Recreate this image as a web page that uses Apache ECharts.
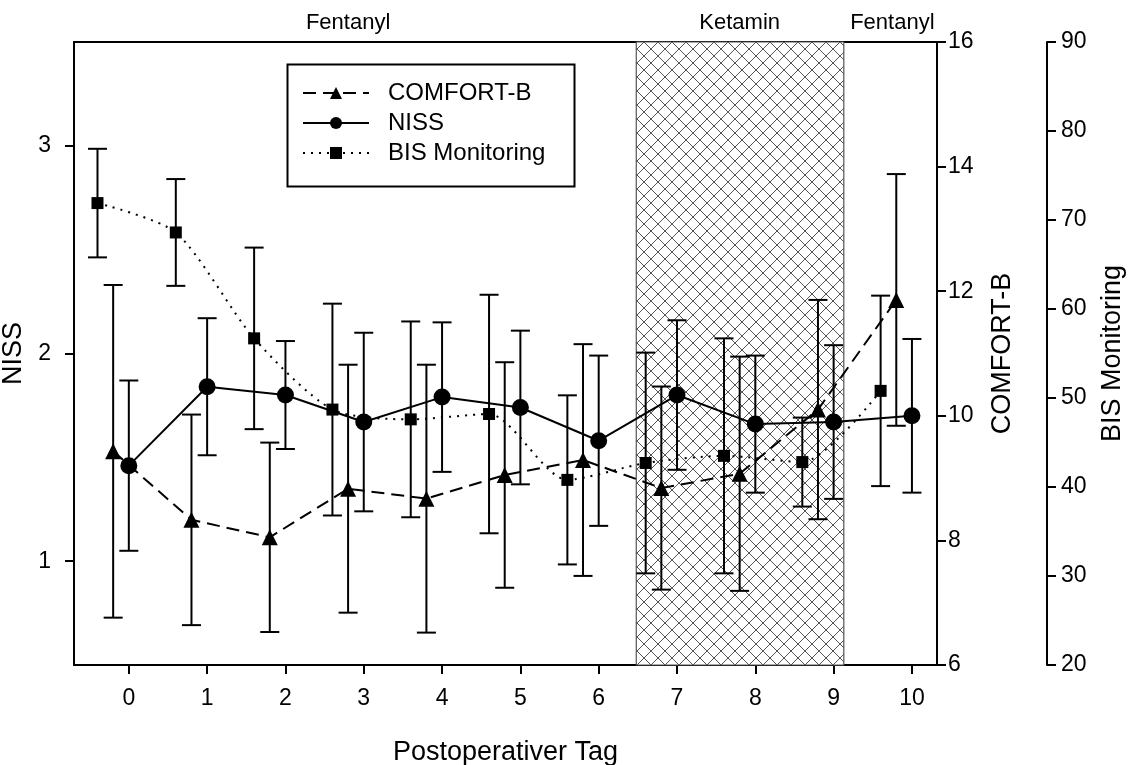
<!DOCTYPE html>
<html>
<head>
<meta charset="utf-8">
<script src="https://cdn.jsdelivr.net/npm/echarts@6/dist/echarts.min.js"></script>
<style>
html,body{margin:0;padding:0;background:#fff;}
#chart{width:1132px;height:765px;}
</style>
</head>
<body>
<div id="chart"></div>
<script>
// ---- data ----
const days = [0, 1, 2, 3, 4, 5, 6, 7, 8, 9, 10];
const xTickLabels = ['0','1','2','3','4','5','6','7','8','9','10'];
const nissTicks = [1, 2, 3];
const nissMean = [1.46, 1.84, 1.80, 1.67, 1.79, 1.74, 1.58, 1.80, 1.66, 1.67, 1.70];
const nissErr  = [0.41, 0.33, 0.26, 0.43, 0.36, 0.37, 0.41, 0.36, 0.33, 0.37, 0.37];
const comfortMean = [9.43, 8.33, 8.05, 8.83, 8.67, 9.05, 9.29, 8.84, 9.07, 10.10, 11.86];
const comfortErr  = [2.67, 1.69, 1.52, 1.99, 2.15, 1.81, 1.86, 1.63, 1.88, 1.76, 2.02];
const bisMean = [71.9, 68.6, 56.7, 48.7, 47.6, 48.2, 40.8, 42.7, 43.5, 42.8, 50.8];
const bisErr  = [6.1, 6.0, 10.2, 11.9, 11.0, 13.4, 9.5, 12.4, 13.2, 5.0, 10.7];
const comfortShift = -0.2;   // plotted slightly left of the day
const bisShift = -0.4;
const ketaminSpan = [6.48, 9.13];
const phaseLabels = ['Fentanyl', 'Ketamin', 'Fentanyl'];
const phaseCenters = [2.8, 7.8, 9.75];

// ---- helpers ----
const FONT = "'Liberation Sans', Arial, sans-serif";

function hatchCanvas() {
  const s = 14;
  const c = document.createElement('canvas');
  c.width = s; c.height = s;
  const g = c.getContext('2d');
  g.fillStyle = '#fff'; g.fillRect(0, 0, s, s);
  g.strokeStyle = '#555'; g.lineWidth = 1;
  g.beginPath();
  g.moveTo(0, 0); g.lineTo(s, s);
  g.moveTo(s, 0); g.lineTo(0, s);
  g.stroke();
  return c;
}

function pts(mean, shift) { return days.map((d, i) => [d + shift, mean[i]]); }
function errData(mean, err, shift) { return days.map((d, i) => [d + shift, mean[i] - err[i], mean[i] + err[i]]); }

function errSeries(name, mean, err, shift, yIdx) {
  return {
    type: 'custom', name: name + ' err', yAxisIndex: yIdx, z: 3, silent: true,
    data: errData(mean, err, shift),
    encode: { x: 0, y: [1, 2] },
    renderItem: function (params, api) {
      const lo = api.coord([api.value(0), api.value(1)]);
      const hi = api.coord([api.value(0), api.value(2)]);
      const w = 9.5;
      const st = { stroke: '#000', lineWidth: 2 };
      return { type: 'group', children: [
        { type: 'line', shape: { x1: lo[0], y1: lo[1], x2: hi[0], y2: hi[1] }, style: st },
        { type: 'line', shape: { x1: lo[0] - w, y1: lo[1], x2: lo[0] + w, y2: lo[1] }, style: st },
        { type: 'line', shape: { x1: hi[0] - w, y1: hi[1], x2: hi[0] + w, y2: hi[1] }, style: st }
      ]};
    }
  };
}

const chart = echarts.init(document.getElementById('chart'), null, { renderer: 'canvas' });

const axisLineStyle = { show: true, onZero: false, lineStyle: { color: '#000', width: 2 } };
const tickStyle = { show: true, inside: false, length: 9, lineStyle: { color: '#000', width: 2 } };
const TICK_FS = 23;
const NAME_FS = 27;

const option = {
  backgroundColor: '#fff',
  animation: false,
  grid: { left: 74, right: 195, top: 42, bottom: 100, containLabel: false, outerBoundsMode: 'none',
          show: true, borderColor: '#000', borderWidth: 2, backgroundColor: 'transparent' },
  legend: {
    orient: 'vertical', left: 297, top: 76, itemWidth: 66, itemHeight: 15, itemGap: 6,
    data: ['COMFORT-B', 'NISS', 'BIS Monitoring'],
    textStyle: { fontFamily: FONT, fontSize: 24, color: '#000', padding: [0, 0, 0, 14] },
    selectedMode: false
  },
  graphic: [
    { type: 'rect', left: 285, top: 62, shape: { width: 287, height: 122 }, style: { fill: 'none', stroke: '#000', lineWidth: 2 }, z: 100 }
  ].concat(phaseLabels.map((t, i) => ({
    type: 'text', z: 100, id: 'phase' + i, x: 0, y: 23,
    style: { text: t, fontSize: 22, fontFamily: FONT, fill: '#000', align: 'center', verticalAlign: 'middle' }
  }))),
  xAxis: {
    type: 'value', min: -0.7, max: 10.32,
    name: 'Postoperativer Tag', nameLocation: 'middle', nameGap: 74,
    nameTextStyle: { fontFamily: FONT, fontSize: NAME_FS, color: '#000' },
    axisLine: axisLineStyle,
    axisTick: Object.assign({ customValues: days }, tickStyle),
    axisLabel: { customValues: days, formatter: (v) => xTickLabels[days.indexOf(v)] ?? '', fontFamily: FONT, fontSize: TICK_FS, color: '#000', margin: 22 },
    splitLine: { show: false }
  },
  yAxis: [
    {
      type: 'value', min: 0.5, max: 3.5, position: 'left',
      name: 'NISS', nameLocation: 'middle', nameGap: 42, nameRotate: 90,
      nameTextStyle: { fontFamily: FONT, fontSize: NAME_FS, color: '#000' },
      axisLine: axisLineStyle,
      axisTick: Object.assign({ customValues: nissTicks }, tickStyle),
      axisLabel: { customValues: nissTicks, fontFamily: FONT, fontSize: TICK_FS, color: '#000', margin: 23 },
      splitLine: { show: false }
    },
    {
      type: 'value', min: 6, max: 16, interval: 2, position: 'right',
      name: 'COMFORT-B', nameLocation: 'middle', nameGap: 52, nameRotate: 90,
      nameTextStyle: { fontFamily: FONT, fontSize: NAME_FS, color: '#000' },
      axisLine: axisLineStyle, axisTick: tickStyle,
      axisLabel: { fontFamily: FONT, fontSize: TICK_FS, color: '#000', margin: 11 },
      splitLine: { show: false }
    },
    {
      type: 'value', min: 20, max: 90, interval: 10, position: 'right', offset: 110,
      name: 'BIS Monitoring', nameLocation: 'middle', nameGap: 52, nameRotate: 90,
      nameTextStyle: { fontFamily: FONT, fontSize: NAME_FS, color: '#000' },
      axisLine: axisLineStyle, axisTick: tickStyle,
      axisLabel: { fontFamily: FONT, fontSize: TICK_FS, color: '#000', margin: 14 },
      splitLine: { show: false }
    }
  ],
  series: [
    {
      type: 'line', name: 'Ketamin-Phase', yAxisIndex: 0, data: [], silent: true, z: 1,
      markArea: {
        silent: true,
        itemStyle: { color: { image: hatchCanvas(), repeat: 'repeat' }, borderColor: '#555', borderWidth: 1.2 },
        label: { show: false },
        data: [[{ xAxis: ketaminSpan[0], y: 42 }, { xAxis: ketaminSpan[1], y: 665 }]]
      }
    },
    errSeries('COMFORT-B', comfortMean, comfortErr, comfortShift, 1),
    errSeries('NISS', nissMean, nissErr, 0, 0),
    errSeries('BIS Monitoring', bisMean, bisErr, bisShift, 2),
    {
      type: 'line', name: 'COMFORT-B', yAxisIndex: 1, z: 5,
      data: pts(comfortMean, comfortShift),
      symbol: 'triangle', symbolSize: 16, showSymbol: true,
      lineStyle: { color: '#000', width: 2, type: [13, 7] },
      itemStyle: { color: '#000', borderWidth: 0 }
    },
    {
      type: 'line', name: 'NISS', yAxisIndex: 0, z: 5,
      data: pts(nissMean, 0),
      symbol: 'circle', symbolSize: 17,
      lineStyle: { color: '#000', width: 2, type: 'solid' },
      itemStyle: { color: '#000', borderWidth: 0 }
    },
    {
      type: 'line', name: 'BIS Monitoring', yAxisIndex: 2, z: 5,
      data: pts(bisMean, bisShift),
      symbol: 'rect', symbolSize: 12, smooth: 0.25,
      lineStyle: { color: '#000', width: 2, type: [2, 6] },
      itemStyle: { color: '#000', borderWidth: 0 }
    }
  ]
};

chart.setOption(option);

// place the phase labels above the plot using the x scale
chart.setOption({
  graphic: phaseLabels.map((t, i) => ({ id: 'phase' + i, x: chart.convertToPixel({ xAxisIndex: 0 }, phaseCenters[i]), y: 23 }))
});
</script>
</body>
</html>
